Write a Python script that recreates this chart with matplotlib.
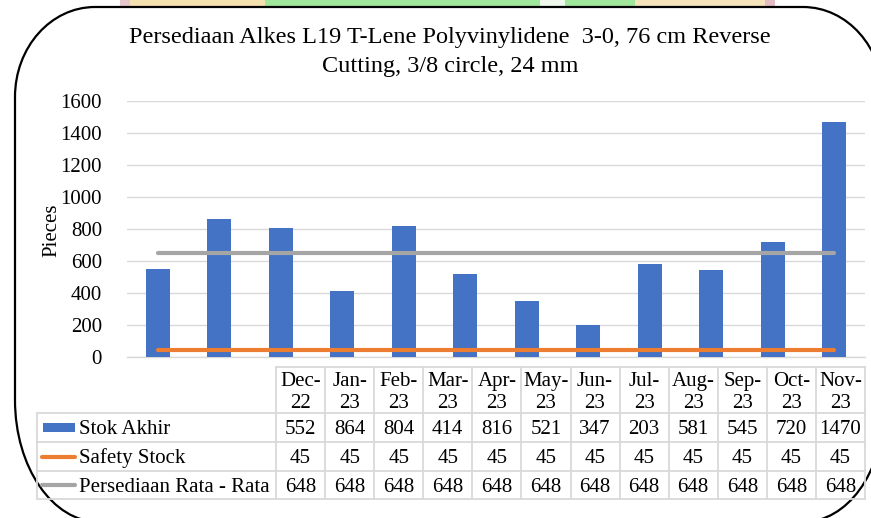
import matplotlib
matplotlib.use("Agg")
import matplotlib.pyplot as plt
from matplotlib.path import Path
from matplotlib.patches import PathPatch, Rectangle
import numpy as np

plt.rcParams['font.family'] = ['Liberation Serif', 'DejaVu Serif']

title = "Persediaan Alkes L19 T-Lene Polyvinylidene  3-0, 76 cm Reverse\nCutting, 3/8 circle, 24 mm"
ylabel = "Pieces"
months = ["Dec-\n22", "Jan-\n23", "Feb-\n23", "Mar-\n23", "Apr-\n23", "May-\n23",
          "Jun-\n23", "Jul-\n23", "Aug-\n23", "Sep-\n23", "Oct-\n23", "Nov-\n23"]
series_names = ["Stok Akhir", "Safety Stock", "Persediaan Rata - Rata"]
stok_akhir = [552, 864, 804, 414, 816, 521, 347, 203, 581, 545, 720, 1470]
safety_stock = [45, 45, 45, 45, 45, 45, 45, 45, 45, 45, 45, 45]
rata_rata = [648, 648, 648, 648, 648, 648, 648, 648, 648, 648, 648, 648]
yticks = [0, 200, 400, 600, 800, 1000, 1200, 1400, 1600]

BLUE = "#4472C4"
ORANGE = "#ED7D31"
GRAY = "#A5A5A5"
GRID = "#D9D9D9"
FS = 15

W, H = 871, 518
fig = plt.figure(figsize=(W / 100, H / 100), dpi=100)
fig.patch.set_facecolor("white")

# overlay axes in pixel coordinates
ov = fig.add_axes([0, 0, 1, 1])
ov.set_xlim(0, W)
ov.set_ylim(H, 0)
ov.axis("off")

# faint watermark strip at the top (outside the frame)
strip = [(120, 130, "#e6c6ca"), (130, 265, "#f5e0b0"), (265, 540, "#9fe79b"),
         (540, 565, "#eef8ec"), (565, 635, "#9fe79b"), (635, 765, "#f5e3bb"),
         (765, 775, "#e3bcc4")]
for x0, x1, c in strip:
    ov.add_patch(Rectangle((x0, 0), x1 - x0, 7, color=c, lw=0, zorder=0))

# rounded frame
k = 0.5523
def frame_path():
    L, R, T, B = 15, 883, 7, 522
    rxt, ryt = 80, 90
    rxb, ryb = 80, 110
    verts = [
        (L + rxt, T), (R - rxt, T),
        (R - rxt + k * rxt, T), (R, T + ryt - k * ryt), (R, T + ryt),
        (R, B - ryb),
        (R, B - ryb + k * ryb), (R - rxb + k * rxb, B), (R - rxb, B),
        (L + 84, B),
        (L + 84 - k * 84, B), (L, B - 122 + k * 122), (L, B - 122),
        (L, T + ryt),
        (L, T + ryt - k * ryt), (L + rxt - k * rxt, T), (L + rxt, T),
    ]
    codes = [Path.MOVETO, Path.LINETO,
             Path.CURVE4, Path.CURVE4, Path.CURVE4,
             Path.LINETO,
             Path.CURVE4, Path.CURVE4, Path.CURVE4,
             Path.LINETO,
             Path.CURVE4, Path.CURVE4, Path.CURVE4,
             Path.LINETO,
             Path.CURVE4, Path.CURVE4, Path.CURVE4]
    return Path(verts, codes)

ov.add_patch(PathPatch(frame_path(), facecolor="white", edgecolor="black", lw=1.6, zorder=1))

# title
ov.text(450, 43, title.split("\n")[0], ha="center", va="baseline", fontsize=17.5, zorder=5)
ov.text(450, 72, title.split("\n")[1], ha="center", va="baseline", fontsize=17.5, zorder=5)

# main chart axes
left, right, top, bottom = 127, 865, 101, 357
ax = fig.add_axes([left / W, (H - bottom) / H, (right - left) / W, (bottom - top) / H])
ax.set_facecolor("none")
x = np.arange(len(stok_akhir))
ax.bar(x, stok_akhir, width=0.39, color=BLUE, zorder=3, label=series_names[0])
ax.plot(x, safety_stock, color=ORANGE, lw=3.0, solid_capstyle="round", zorder=4)
ax.plot(x, rata_rata, color=GRAY, lw=3.0, solid_capstyle="round", zorder=4)
ax.set_xlim(-0.5, len(x) - 0.5)
ax.set_ylim(0, 1600)
ax.set_yticks(yticks)
ax.set_yticklabels([str(v) for v in yticks], fontsize=FS)
ax.yaxis.grid(True, color=GRID, lw=1.0, zorder=0)
ax.tick_params(axis="y", length=0, pad=18)
ax.tick_params(axis="x", length=0, labelbottom=False)
for s in ["top", "right", "left"]:
    ax.spines[s].set_visible(False)
ax.spines["bottom"].set_color(GRID)
ax.spines["bottom"].set_linewidth(1.0)
ax.set_xticks([])
ov.text(52, 230, ylabel, rotation=90, ha="center", va="center", fontsize=FS, zorder=5)

# data table
tab_left, col0, tab_right = 37, 276, 865
ys = [367, 413, 442, 471, 499]
ncol = len(months)
cw = (tab_right - col0) / ncol
lc = GRID
lw = 1.3
ov.plot([col0, tab_right], [ys[0], ys[0]], color=lc, lw=lw, zorder=3)
for yy in ys[1:]:
    ov.plot([tab_left, tab_right], [yy, yy], color=lc, lw=lw, zorder=3)
ov.plot([tab_left, tab_left], [ys[1], ys[-1]], color=lc, lw=lw, zorder=3)
for i in range(ncol + 1):
    xx = col0 + i * cw
    ov.plot([xx, xx], [ys[0], ys[-1]], color=lc, lw=lw, zorder=3)

for i, m in enumerate(months):
    cx = col0 + (i + 0.5) * cw
    top_line, bot_line = m.split("\n")
    ov.text(cx, 386, top_line, ha="center", va="baseline", fontsize=FS, zorder=5)
    ov.text(cx, 408, bot_line, ha="center", va="baseline", fontsize=FS, zorder=5)

rows = [stok_akhir, safety_stock, rata_rata]
baselines = [434, 463, 492]
for r, vals in enumerate(rows):
    by = baselines[r]
    for i, v in enumerate(vals):
        cx = col0 + (i + 0.5) * cw
        ov.text(cx, by, str(v), ha="center", va="baseline", fontsize=FS, zorder=5)
    ov.text(79, by, series_names[r], ha="left", va="baseline", fontsize=FS, zorder=5)

# legend keys
cy0 = (ys[1] + ys[2]) / 2
ov.add_patch(Rectangle((43, cy0 - 4.5), 32, 9, color=BLUE, lw=0, zorder=4))
cy1 = (ys[2] + ys[3]) / 2
ov.plot([42, 75], [cy1, cy1], color=ORANGE, lw=3.0, solid_capstyle="round", zorder=4)
cy2 = (ys[3] + ys[4]) / 2
ov.plot([42, 75], [cy2, cy2], color=GRAY, lw=3.0, solid_capstyle="round", zorder=4)

fig.savefig("out.png", dpi=100)
